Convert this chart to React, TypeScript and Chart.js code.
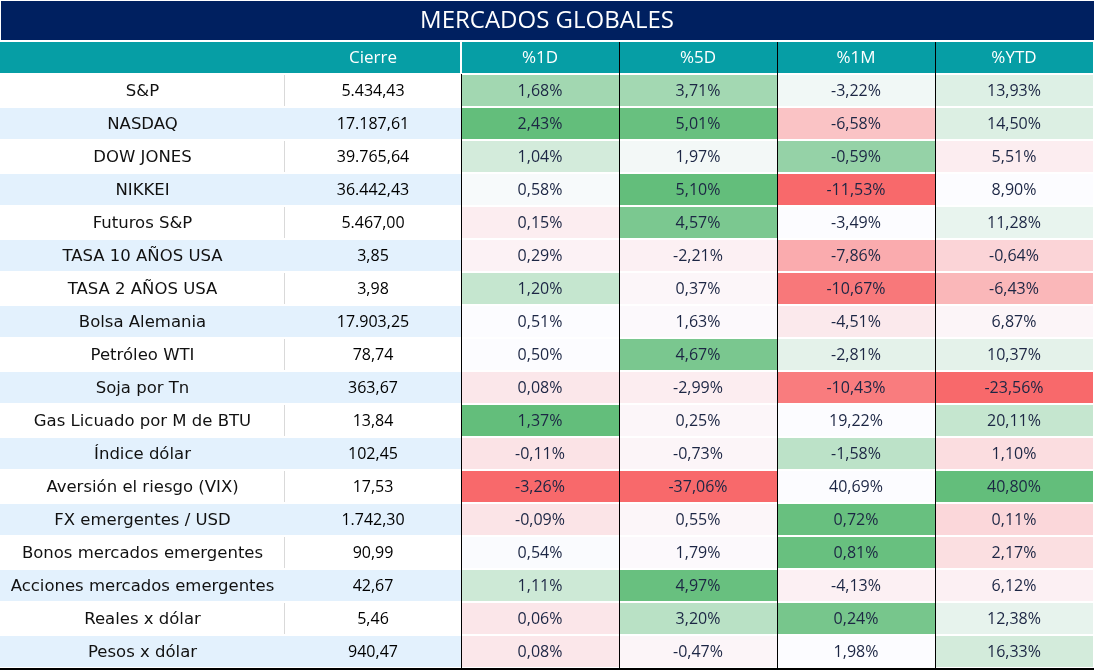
import { useEffect, useRef } from 'react';
import { Chart, registerables } from 'chart.js';

Chart.register(...registerables);

// ---------- data ----------
const TITLE = 'MERCADOS GLOBALES';
const HEADERS = ['', 'Cierre', '%1D', '%5D', '%1M', '%YTD'];
const ROW_NAMES = [
  'S&P', 'NASDAQ', 'DOW JONES', 'NIKKEI', 'Futuros S&P', 'TASA 10 AÑOS USA', 'TASA 2 AÑOS USA',
  'Bolsa Alemania', 'Petróleo WTI', 'Soja por Tn', 'Gas Licuado por M de BTU', 'Índice dólar',
  'Aversión el riesgo (VIX)', 'FX emergentes / USD', 'Bonos mercados emergentes',
  'Acciones mercados emergentes', 'Reales x dólar', 'Pesos x dólar',
];
const CIERRE = [5434.43, 17187.61, 39765.64, 36442.43, 5467.0, 3.85, 3.98, 17903.25, 78.74, 363.67, 13.84, 102.45, 17.53, 1742.3, 90.99, 42.67, 5.46, 940.47];
const PCT_1D = [1.68, 2.43, 1.04, 0.58, 0.15, 0.29, 1.2, 0.51, 0.5, 0.08, 1.37, -0.11, -3.26, -0.09, 0.54, 1.11, 0.06, 0.08];
const PCT_5D = [3.71, 5.01, 1.97, 5.1, 4.57, -2.21, 0.37, 1.63, 4.67, -2.99, 0.25, -0.73, -37.06, 0.55, 1.79, 4.97, 3.2, -0.47];
const PCT_1M = [-3.22, -6.58, -0.59, -11.53, -3.49, -7.86, -10.67, -4.51, -2.81, -10.43, 19.22, -1.58, 40.69, 0.72, 0.81, -4.13, 0.24, 1.98];
const PCT_YTD = [13.93, 14.5, 5.51, 8.9, 11.28, -0.64, -6.43, 6.87, 10.37, -23.56, 20.11, 1.1, 40.8, 0.11, 2.17, 6.12, 12.38, 16.33];

// ---------- styles (cell shading, + green / - red intensity) ----------
const SHADE_1D = [0.59, 1, 0.27, 0.03, -0.1, -0.07, 0.36, 0, 0, -0.14, 1, -0.17, -1, -0.16, 0.01, 0.31, -0.15, -0.14];
const SHADE_5D = [0.58, 0.97, 0.06, 1, 0.84, -0.08, -0.04, -0.02, 0.85, -0.1, -0.04, -0.05, -1, -0.04, -0.02, 0.97, 0.44, -0.05];
const SHADE_1M = [0.07, -0.39, 0.67, -1, 0, -0.55, -0.9, -0.13, 0.16, -0.87, 0, 0.42, 0, 0.97, 0.97, -0.08, 0.87, 0];
const SHADE_YTD = [0.2, 0.21, -0.1, 0, 0.13, -0.27, -0.47, -0.05, 0.16, -1, 0.36, -0.21, 1, -0.25, -0.2, -0.08, 0.14, 0.27];

const COL_EDGES = [0, 285, 461, 619, 777, 935, 1093];
const NAVY = '#002060';
const TEAL = '#069ea5';
const LIGHT_BLUE = '#e3f1fd';
const GREEN = [99, 190, 123];
const WHITE = [252, 252, 255];
const RED = [248, 105, 107];

function shadeColor(t: number): string {
  const target = t >= 0 ? GREEN : RED;
  const a = Math.min(1, Math.abs(t));
  const c = WHITE.map((w, i) => Math.round(w + (target[i] - w) * a));
  return `rgb(${c[0]},${c[1]},${c[2]})`;
}

function fmtThousands(v: number): string {
  const [int, dec] = v.toFixed(2).split('.');
  const withDots = int.replace(/\B(?=(\d{3})+(?!\d))/g, '.');
  return `${withDots},${dec}`;
}
function fmtPct(v: number): string {
  return `${v.toFixed(2).replace('.', ',')}%`;
}

const PCT_COLS = [PCT_1D, PCT_5D, PCT_1M, PCT_YTD];
const SHADE_COLS = [SHADE_1D, SHADE_5D, SHADE_1M, SHADE_YTD];

export default function App() {
  const ref = useRef<HTMLCanvasElement | null>(null);

  useEffect(() => {
    if (!ref.current) return;
    const labels = ['__header', ...ROW_NAMES];
    const nRows = labels.length;

    const colColors: string[][] = HEADERS.map((_, ci) =>
      labels.map((_, ri) => {
        if (ri === 0) return TEAL;
        const d = ri - 1;
        if (ci < 2) return d % 2 === 1 ? LIGHT_BLUE : '#ffffff';
        return shadeColor(SHADE_COLS[ci - 2][d]);
      })
    );

    const cellText = (ci: number, d: number): string => {
      if (ci === 0) return ROW_NAMES[d];
      if (ci === 1) return fmtThousands(CIERRE[d]);
      return fmtPct(PCT_COLS[ci - 2][d]);
    };

    const tablePlugin = {
      id: 'tableDecor',
      beforeDatasetsDraw(chart: any) {
        const ctx = chart.ctx as CanvasRenderingContext2D;
        ctx.save();
        ctx.fillStyle = NAVY;
        ctx.fillRect(1, 1, chart.width - 1, 39);
        ctx.restore();
      },
      afterDatasetsDraw(chart: any) {
        const ctx = chart.ctx as CanvasRenderingContext2D;
        const xs = chart.scales.x;
        const ys = chart.scales.y;
        const area = chart.chartArea;
        const rowH = (area.bottom - area.top) / nRows;
        const headTop = area.top + 1;
        const dataTop = area.top + rowH;
        ctx.save();
        // vertical separators
        const px = (v: number) => Math.round(xs.getPixelForValue(v));
        ctx.fillStyle = '#ffffff';
        ctx.fillRect(px(COL_EDGES[2]) - 1, headTop, 2, rowH - 2);
        ctx.fillStyle = '#000000';
        ctx.fillRect(px(COL_EDGES[2]), dataTop, 1, area.bottom - dataTop);
        for (let k = 3; k <= 5; k++) {
          ctx.fillRect(px(COL_EDGES[k]), headTop, 1, area.bottom - headTop);
        }
        // light grey separator for white rows in first columns
        ctx.fillStyle = '#d9d9d9';
        for (let d = 0; d < ROW_NAMES.length; d += 2) {
          const cy = ys.getPixelForValue(d + 1);
          ctx.fillRect(px(COL_EDGES[1]) - 1, cy - rowH / 2 + 1, 1, rowH - 2);
        }
        // bottom border
        ctx.fillStyle = '#000000';
        ctx.fillRect(0, area.bottom, chart.width, 2);

        // title
        ctx.textAlign = 'center';
        ctx.textBaseline = 'middle';
        ctx.fillStyle = '#ffffff';
        ctx.font = '24px "Open Sans"';
        ctx.fillText(TITLE, chart.width / 2, 21);

        // header
        ctx.font = '17px "Open Sans"';
        const hy = ys.getPixelForValue(0) + 1;
        HEADERS.forEach((h, ci) => {
          if (!h) return;
          const cx = xs.getPixelForValue((COL_EDGES[ci] + COL_EDGES[ci + 1]) / 2);
          ctx.fillText(h, cx, hy);
        });

        // body text
        for (let d = 0; d < ROW_NAMES.length; d++) {
          const cy = ys.getPixelForValue(d + 1) + 1;
          for (let ci = 0; ci < HEADERS.length; ci++) {
            const cx = xs.getPixelForValue((COL_EDGES[ci] + COL_EDGES[ci + 1]) / 2);
            if (ci === 0) {
              ctx.font = '16.5px "DejaVu Sans"';
              ctx.fillStyle = '#111111';
            } else if (ci === 1) {
              ctx.font = '16px "Open Sans"';
              ctx.fillStyle = '#000000';
            } else {
              ctx.font = '16px "Open Sans"';
              ctx.fillStyle = '#1c2644';
            }
            ctx.fillText(cellText(ci, d), cx, cy);
          }
        }
        ctx.restore();
      },
    };

    const chart = new Chart(ref.current, {
      type: 'bar',
      data: {
        labels,
        datasets: HEADERS.map((h, ci) => ({
          label: h || 'Activo',
          data: labels.map(() => [COL_EDGES[ci], COL_EDGES[ci + 1]] as [number, number]),
          backgroundColor: colColors[ci],
          borderWidth: 0,
          grouped: false,
          barPercentage: 1,
          categoryPercentage: 31 / 33,
        })),
      },
      options: {
        indexAxis: 'y',
        animation: false,
        responsive: true,
        maintainAspectRatio: false,
        layout: { padding: { top: 41, bottom: 2, left: 0, right: 0 } },
        scales: {
          x: { type: 'linear', min: 0, max: 1094, display: false },
          y: { type: 'category', display: false, offset: true },
        },
        plugins: { legend: { display: false }, tooltip: { enabled: false } },
      },
      plugins: [tablePlugin],
    } as any);

    return () => chart.destroy();
  }, []);

  return (
    <div style={{ position: 'fixed', left: 0, top: 0, width: 1094, height: 670, background: '#ffffff' }}>
      <canvas ref={ref} />
    </div>
  );
}
